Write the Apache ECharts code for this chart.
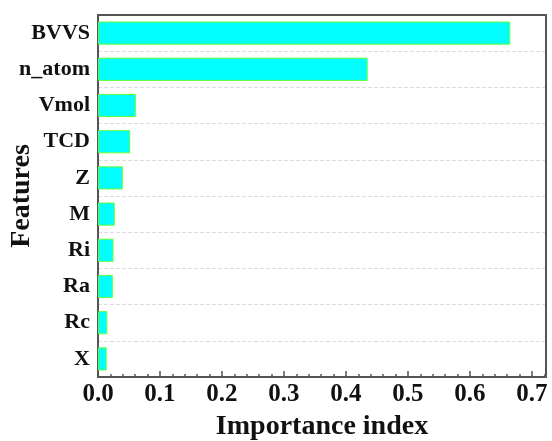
<!DOCTYPE html>
<html>
<head>
<meta charset="utf-8">
<script src="https://cdn.jsdelivr.net/npm/echarts@6/dist/echarts.min.js"></script>
<style>html,body{margin:0;padding:0;background:#fff}#c{width:552px;height:441px}</style>
</head>
<body>
<div id="c"></div>
<script>
const features = ['BVVS','n_atom','Vmol','TCD','Z','M','Ri','Ra','Rc','X'];
const importance = [0.665,0.435,0.061,0.052,0.040,0.027,0.025,0.024,0.015,0.014];
const xTicks = [0.0,0.1,0.2,0.3,0.4,0.5,0.6,0.7];

const font = '"Liberation Serif","Times New Roman",serif';
const frame = {color:'#555',width:2};
const chart = echarts.init(document.getElementById('c'));
chart.setOption({
  animation:false,
  grid:{left:98,right:6,top:15,bottom:64,containLabel:false,outerBoundsMode:'none'},
  xAxis:[{
    type:'value',min:0,max:0.7226,interval:0.1,
    name:'Importance index',nameLocation:'middle',nameGap:36,nameMoveOverlap:false,
    nameTextStyle:{fontFamily:font,fontWeight:'bold',fontSize:28,color:'#111'},
    axisLine:{show:true,lineStyle:frame},
    axisTick:{show:true,inside:true,length:6,lineStyle:{color:'#555',width:1.5}},
    minorTick:{show:true,splitNumber:5,length:3,lineStyle:{color:'#555',width:1.5}},
    axisLabel:{fontFamily:font,fontWeight:'bold',fontSize:25,color:'#111',margin:5,showMaxLabel:false,
      formatter:v=>{const t=xTicks.find(x=>Math.abs(x-v)<1e-9);return t===undefined?'':t.toFixed(1);}},
    splitLine:{show:false}
  },{
    type:'value',position:'top',min:0,max:0.7226,
    axisLine:{show:true,onZero:false,lineStyle:frame},
    axisTick:{show:false},axisLabel:{show:false},splitLine:{show:false}
  }],
  yAxis:[{
    type:'category',data:features,inverse:true,
    name:'Features',nameLocation:'middle',nameGap:62,nameMoveOverlap:false,
    nameTextStyle:{fontFamily:font,fontWeight:'bold',fontSize:28,color:'#111'},
    axisLine:{show:true,lineStyle:frame},
    axisTick:{show:false},
    axisLabel:{fontFamily:font,fontWeight:'bold',fontSize:22,color:'#111',margin:8},
    splitLine:{show:true,lineStyle:{color:'#ddd',type:'dashed',width:1}}
  },{
    type:'category',data:features,inverse:true,position:'right',
    axisLine:{show:true,onZero:false,lineStyle:frame},
    axisTick:{show:false},axisLabel:{show:false},splitLine:{show:false}
  }],
  series:[{
    type:'bar',data:importance,barCategoryGap:'36%',z:3,
    itemStyle:{color:'#00ffff',borderColor:'#66ff33',borderWidth:1}
  }]
});
</script>
</body>
</html>
